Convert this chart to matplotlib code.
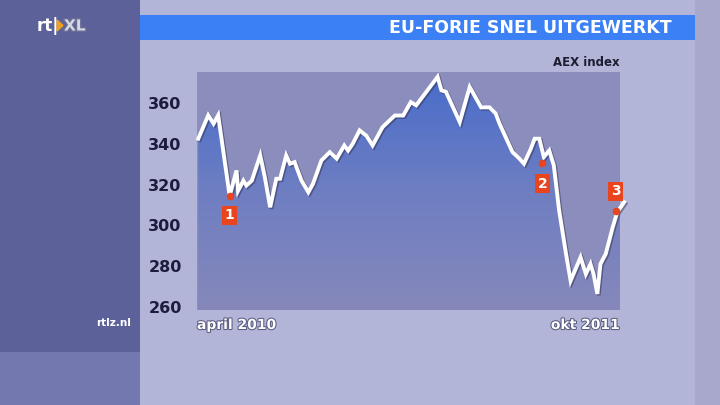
import numpy as np
import matplotlib
matplotlib.use("Agg")
from matplotlib import pyplot as plt
from matplotlib.patches import Rectangle, Polygon
from matplotlib import patheffects as pe

# AEX index, dagen sinds begin april 2010
dag = [0, 13, 20, 26, 41, 50, 52, 59, 63, 70, 81, 87, 94, 102, 107, 115, 120,
       126, 135, 144, 150, 161, 172, 181, 191, 196, 202, 211, 220, 228, 241,
       257, 268, 278, 285, 313, 318, 324, 342, 355, 370, 381, 389, 394, 411,
       420, 426, 435, 440, 446, 452, 459, 465, 472, 481, 487, 500, 507, 513,
       517, 522, 526, 533, 542, 548, 557]
aex = [342.6, 354.1, 350.0, 354.1, 314.5, 327.0, 317.0, 322.0, 319.6, 322.0,
       334.4, 323.7, 308.9, 322.9, 322.9, 334.4, 330.3, 331.1, 322.0, 316.3,
       320.4, 331.9, 336.0, 332.8, 339.3, 336.8, 340.1, 346.7, 344.0, 339.3,
       348.3, 354.0, 354.0, 360.6, 359.0, 373.0, 366.4, 365.6, 350.8, 368.0,
       358.0, 358.0, 355.0, 350.0, 336.0, 332.8, 330.3, 337.7, 342.6, 342.6,
       333.6, 336.8, 329.5, 307.3, 286.0, 272.8, 284.3, 276.1, 281.0, 276.1,
       266.3, 281.0, 286.0, 299.0, 306.5, 311.4]
yticks = [260, 280, 300, 320, 340, 360]
markers_dag = [41, 450, 546]
markers_val = [314.5, 330.8, 307.2]
markers_txt = ["1", "2", "3"]
markers_off = [-14, -15, 14]

W, H = 720, 405
fig = plt.figure(figsize=(W / 100, H / 100), dpi=100)


def px(x, y):
    return x / W, 1 - y / H


def rect(x0, y0, x1, y1, color, z=-10):
    fig.patches.append(Rectangle(px(x0, y1), (x1 - x0) / W, (y1 - y0) / H,
                                 transform=fig.transFigure, color=color,
                                 zorder=z, lw=0))


# background panels
rect(0, 0, W, H, "#b3b5d8")
rect(0, 0, 140, 352, "#5c6299")
rect(0, 352, 140, H, "#7378ae")
rect(695, 0, W, H, "#a7a8cc")
rect(140, 15, 695, 40, "#3b80f4", z=-5)

fig.text(*px(672, 28), "EU-FORIE SNEL UITGEWERKT", ha="right", va="center",
         color="white", fontsize=12.5, fontweight="bold",
         family="Liberation Sans Narrow", zorder=3)

# logo
fig.text(*px(37, 26), "rt|", ha="left", va="center", color="white",
         fontsize=12, fontweight="bold", zorder=3)
fig.patches.append(Polygon([px(57, 20), px(57, 31), px(63, 25.5)],
                           closed=True, transform=fig.transFigure,
                           color="#f0a020", zorder=3))
fig.text(*px(64, 26), "XL", ha="left", va="center", color="#d8d8e0",
         fontsize=11, fontweight="bold", zorder=3,
         path_effects=[pe.withStroke(linewidth=2, foreground="#6a6f98")])

ax = fig.add_axes([197 / W, (H - 310) / H, 423 / W, 238 / H])
ax.set_zorder(5)
ax.set_facecolor("#8b8dbd")
ax.set_xlim(-1.7, 551.6)
ax.set_ylim(258.4, 375.4)
for s in ax.spines.values():
    s.set_visible(False)
ax.set_xticks([])
ax.set_yticks(yticks)
ax.tick_params(axis="y", length=0, pad=11, labelsize=11.5, labelcolor="#1c1c3c")
for lab in ax.get_yticklabels():
    lab.set_fontweight("bold")

# gradient fill under line
grad = np.linspace(0, 1, 256).reshape(-1, 1)
cmap = matplotlib.colors.LinearSegmentedColormap.from_list(
    "g", ["#8688ba", "#6e7ec2", "#476cca"])
img = ax.imshow(grad, cmap=cmap, aspect="auto", origin="lower",
                extent=[-1.7, 551.6, 258.4, 375.4], zorder=1)
poly = ax.fill_between(dag, aex, 258.4, color="none")
clip = Polygon(poly.get_paths()[0].vertices, closed=True,
               transform=ax.transData)
img.set_clip_path(clip)

ax.plot(dag, aex, color="white", lw=2.8, zorder=3, clip_on=False,
        solid_joinstyle="miter",
        path_effects=[pe.SimpleLineShadow(offset=(1, -1), shadow_color="#303050",
                                          alpha=0.5), pe.Normal()])

for d, v, t, off in zip(markers_dag, markers_val, markers_txt, markers_off):
    ax.plot([d], [v], "o", color="#e8441e", ms=4.5, zorder=4, clip_on=False)
    ax.annotate(t, (d, v), xytext=(0, off), textcoords="offset points",
                ha="center", va="center", color="white", fontsize=10,
                fontweight="bold", zorder=5, annotation_clip=False,
                bbox=dict(boxstyle="square,pad=0.2", fc="#e8441e", ec="none"))

fig.text(*px(620, 62), "AEX index", ha="right", va="center",
         color="#1c1c30", fontsize=8.5, fontweight="bold")
fig.text(*px(197, 325), "april 2010", ha="left", va="center", color="white",
         fontsize=10, fontweight="bold",
         path_effects=[pe.withStroke(linewidth=1.5, foreground="#5a5c80")])
fig.text(*px(620, 325), "okt 2011", ha="right", va="center", color="white",
         fontsize=10, fontweight="bold",
         path_effects=[pe.withStroke(linewidth=1.5, foreground="#5a5c80")])
fig.text(*px(131, 323), "rtlz.nl", ha="right", va="center", color="white",
         fontsize=7.5, fontweight="bold")

fig.savefig("out.png", dpi=100)
